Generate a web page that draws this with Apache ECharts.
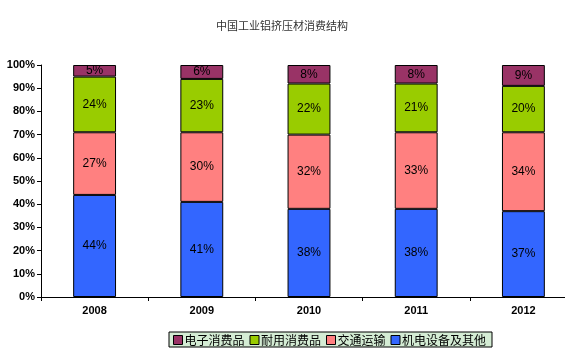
<!DOCTYPE html>
<html>
<head>
<meta charset="utf-8">
<script src="https://cdn.jsdelivr.net/npm/echarts@6/dist/echarts.min.js"></script>
<style>
  html, body { margin: 0; padding: 0; background: #fff; overflow: hidden; }
  #chart { width: 577px; height: 351px; }
</style>
</head>
<body>
<div id="chart"></div>
<script>
/* Consumption structure of industrial aluminium extrusions in China */
var years = ['2008', '2009', '2010', '2011', '2012'];
var machinery = [44, 41, 38, 38, 37];     // 机电设备及其他
var transport = [27, 30, 32, 33, 34];     // 交通运输
var durables = [24, 23, 22, 21, 20];      // 耐用消费品
var electronics = [5, 6, 8, 8, 9];        // 电子消费品
var yTicks = [0, 10, 20, 30, 40, 50, 60, 70, 80, 90, 100];

var chart = echarts.init(document.getElementById('chart'));

var makeSeries = function (name, data, color) {
  return {
    name: name,
    type: 'bar',
    stack: 'total',
    barWidth: '40%',
    data: data,
    itemStyle: {
      color: color,
      borderColor: '#000',
      borderWidth: 1
    },
    label: {
      show: true,
      position: 'inside',
      formatter: '{c}%',
      color: '#000',
      fontFamily: 'Arial, Liberation Sans',
      fontSize: 12
    }
  };
};

chart.setOption({
  animation: false,
  title: {
    text: '中国工业铝挤压材消费结构',
    left: 211,
    top: 15,
    textStyle: {
      fontSize: 11,
      fontWeight: 'normal',
      color: '#333',
      fontFamily: 'Noto Sans CJK SC'
    }
  },
  legend: {
    left: 169,
    top: 332,
    data: ['电子消费品', '耐用消费品', '交通运输', '机电设备及其他'],
    itemWidth: 9,
    itemHeight: 9,
    itemGap: 5,
    padding: [2, 6, 1, 4],
    backgroundColor: '#d4ecd4',
    borderColor: '#000',
    borderWidth: 1,
    borderRadius: 0,
    textStyle: {
      fontSize: 12,
      color: '#000',
      padding: [0, 0, 0, -3],
      fontFamily: 'Noto Sans CJK SC'
    },
    icon: 'rect',
    itemStyle: { borderColor: '#000', borderWidth: 1 }
  },
  grid: {
    left: 41,
    right: 0,
    top: 65,
    bottom: 54
  },
  xAxis: {
    type: 'category',
    data: years,
    axisLine: { lineStyle: { color: '#000', width: 1 } },
    axisTick: { show: true, length: 4, lineStyle: { color: '#000' } },
    axisLabel: {
      color: '#000',
      fontWeight: 'bold',
      fontSize: 11,
      fontFamily: 'Arial, Liberation Sans',
      margin: 8
    }
  },
  yAxis: {
    type: 'value',
    min: yTicks[0],
    max: yTicks[yTicks.length - 1],
    interval: 10,
    axisLine: { show: true, lineStyle: { color: '#000', width: 1 } },
    axisTick: { show: true, length: 4, lineStyle: { color: '#000' } },
    splitLine: { show: false },
    axisLabel: {
      formatter: '{value}%',
      color: '#000',
      fontWeight: 'bold',
      fontSize: 11,
      fontFamily: 'Arial, Liberation Sans',
      margin: 6
    }
  },
  series: [
    makeSeries('机电设备及其他', machinery, '#3366ff'),
    makeSeries('交通运输', transport, '#ff8080'),
    makeSeries('耐用消费品', durables, '#99cc00'),
    makeSeries('电子消费品', electronics, '#993366')
  ]
});
</script>
</body>
</html>
